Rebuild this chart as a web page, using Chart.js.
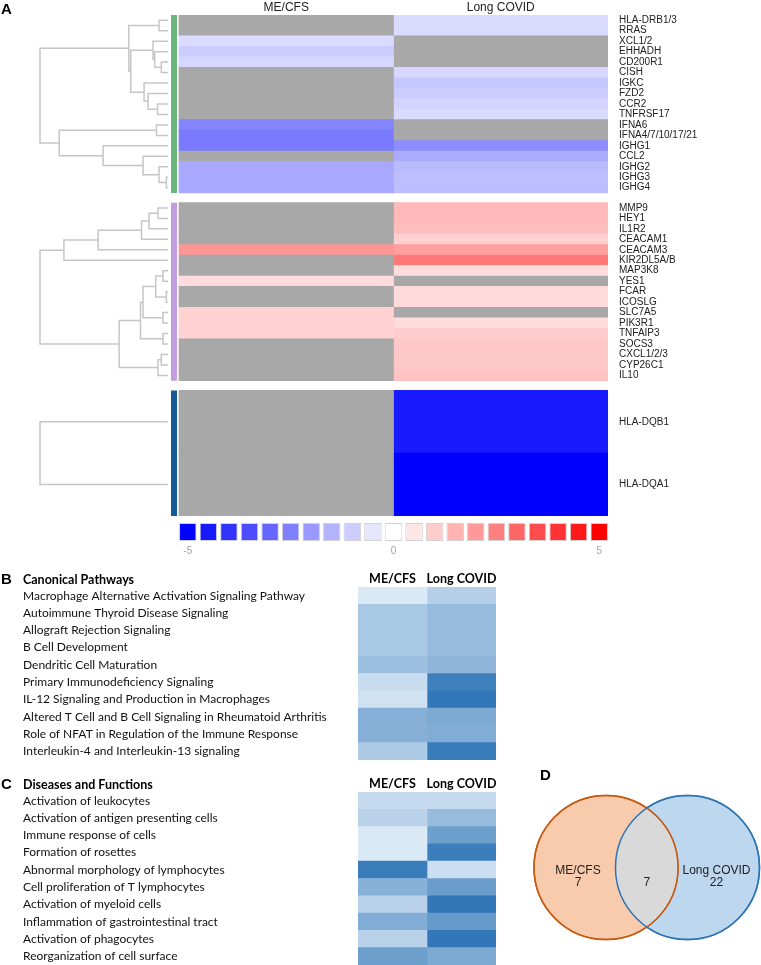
<!DOCTYPE html>
<html>
<head>
<meta charset="utf-8">
<script src="https://cdn.jsdelivr.net/npm/chart.js@4.4.1/dist/chart.umd.min.js"></script>
<style>
body { margin: 0; background: #fff; }
#page { position: relative; width: 761px; height: 965px; overflow: hidden; }
.cv { position: absolute; }
.tag { position: absolute; font: bold 15px 'Liberation Sans', Arial, sans-serif; color: #000; }
.ttl { position: absolute; font: bold 12.5px Lato, sans-serif; color: #000; }
</style>
</head>
<body>
<div id="page">
  <canvas id="heatmap" class="cv" width="761" height="520" style="left:0;top:0"></canvas>
  <canvas id="colorbar" class="cv" width="761" height="45" style="left:0;top:515px"></canvas>
  <canvas id="pathways" class="cv" width="761" height="192" style="left:0;top:570px"></canvas>
  <canvas id="diseases" class="cv" width="761" height="192" style="left:0;top:775px"></canvas>
  <canvas id="venn" class="cv" width="231" height="195" style="left:530px;top:770px"></canvas>
  <div class="tag" style="left:1px;top:0px">A</div>
  <div class="tag" style="left:1px;top:570px">B</div>
  <div class="ttl" style="left:23px;top:572px">Canonical Pathways</div>
  <div class="tag" style="left:1px;top:775px">C</div>
  <div class="ttl" style="left:23px;top:777px">Diseases and Functions</div>
  <div class="tag" style="left:540px;top:766px">D</div>
</div>
<script>
// ---- data ----
const conditions = ['ME/CFS', 'Long COVID'];

const group1Genes = ['HLA-DRB1/3', 'RRAS', 'XCL1/2', 'EHHADH', 'CD200R1', 'CISH', 'IGKC', 'FZD2', 'CCR2',
  'TNFRSF17', 'IFNA6', 'IFNA4/7/10/17/21', 'IGHG1', 'CCL2', 'IGHG2', 'IGHG3', 'IGHG4'];
const group1MECFS = [null, null, -0.7, -1.0, -0.8, null, null, null, null, null, -2.4, -2.6, -2.6, null, -1.7, -1.7, -1.7];
const group1LongCovid = [-0.7, -0.7, null, null, null, -0.8, -1.1, -1.0, -0.85, -0.7, null, null, -2.25, -1.65, -1.35, -1.3, -1.3];

const group2Genes = ['MMP9', 'HEY1', 'IL1R2', 'CEACAM1', 'CEACAM3', 'KIR2DL5A/B', 'MAP3K8', 'YES1', 'FCAR',
  'ICOSLG', 'SLC7A5', 'PIK3R1', 'TNFAIP3', 'SOCS3', 'CXCL1/2/3', 'CYP26C1', 'IL10'];
const group2MECFS = [null, null, null, null, 2.05, null, null, 0.7, null, null, 0.9, 0.9, 0.9, null, null, null, null];
const group2LongCovid = [1.37, 1.37, 1.27, 0.92, 1.86, 2.65, 0.69, null, 0.73, 0.73, null, 0.69, 0.98, 1.08, 1.08, 1.08, 1.18];

const group3Genes = ['HLA-DQB1', 'HLA-DQA1'];
const group3MECFS = [null, null];
const group3LongCovid = [-4.5, -5];

// dendrograms: [left, right, height], leaves are row indexes
const group1Tree = [
  [[0, 1, 0.07],
   [[2, [3, [4, 5, 0.052], 0.104], 0.117], [6, [7, [8, 9, 0.082], 0.156], 0.187], 0.291], 0.306],
  [[10, 11, 0.09], [12, [13, [14, [15, 16, 0.013], 0.07], 0.195], 0.507], 0.85],
  1.0];
const group2Tree = [
  [[[[[0, 1, 0.078], 2, 0.148], 3, 0.207], 4, 0.546], 5, 0.813],
  [[[[[6, 7, 0.039], [8, 9, 0.013], 0.096], [10, 11, 0.039], 0.195], [12, 13, 0.039], 0.215],
   [[14, 15, 0.052], 16, 0.078], 0.382],
  1.0];
const group3Tree = [0, 1, 1.0];

const scaleSteps = [-5, -4.5, -4, -3.5, -3, -2.5, -2, -1.5, -1, -0.5, 0, 0.5, 1, 1.5, 2, 2.5, 3, 3.5, 4, 4.5, 5];
const colorbarTickLabels = [-5, 0, 5];

const pathways = ['Macrophage Alternative Activation Signaling Pathway', 'Autoimmune Thyroid Disease Signaling',
  'Allograft Rejection Signaling', 'B Cell Development', 'Dendritic Cell Maturation',
  'Primary Immunodeficiency Signaling', 'IL-12 Signaling and Production in Macrophages',
  'Altered T Cell and B Cell Signaling in Rheumatoid Arthritis', 'Role of NFAT in Regulation of the Immune Response',
  'Interleukin-4 and Interleukin-13 signaling'];
const pathwayMECFS = [0.2, 3.0, 3.0, 3.0, 3.7, 1.3, 0.8, 5.0, 5.0, 2.7];
const pathwayLongCovid = [2.4, 4.1, 4.1, 4.1, 4.5, 9.1, 9.8, 5.5, 5.3, 9.4];

const diseases = ['Activation of leukocytes', 'Activation of antigen presenting cells', 'Immune response of cells',
  'Formation of rosettes', 'Abnormal morphology of lymphocytes', 'Cell proliferation of T lymphocytes',
  'Activation of myeloid cells', 'Inflammation of gastrointestinal tract', 'Activation of phagocytes',
  'Reorganization of cell surface'];
const diseaseMECFS = [1.4, 2.1, 0.2, 0.2, 9.3, 4.9, 2.1, 5.3, 2.1, 6.4];
const diseaseLongCovid = [1.4, 4.1, 6.4, 9.2, 1.0, 6.6, 9.8, 6.9, 9.8, 5.5];

const vennSets = ['ME/CFS', 'Long COVID'];
const vennOnly = [7, 22];
const vennShared = 7;

// ---- layout ----
Chart.defaults.font.family = "'Liberation Sans', Arial, sans-serif";
const HEAT_LEFT = 179, HEAT_RIGHT = 608, HEAT_TOP = 15;
const LEAF_PX = 168, ROOT_PX = 40, SIDEBAR_PX = 174;
const groupRowSize = [1, 1, 6];
const groupGap = 0.93;
const groupColors = ['#6cb57c', '#c29ddf', '#155a96'];
const NA_GREY = '#a8a8a8';

const colUnit = (HEAT_RIGHT - HEAT_LEFT) / 2;
const toX = px => (px - HEAT_LEFT) / colUnit;
const hx = h => toX(LEAF_PX - h * (LEAF_PX - ROOT_PX));

function heatColor(v) {
  if (v === null) return NA_GREY;
  const t = Math.min(1, Math.abs(v) / 5);
  const c = Math.round(255 * (1 - t));
  return v < 0 ? `rgb(${c},${c},255)` : `rgb(255,${c},${c})`;
}

function ipaColor(s) {
  const lo = [222, 235, 247], hi = [46, 117, 182];
  const t = s / 10;
  return 'rgb(' + lo.map((c, i) => Math.round(c + (hi[i] - c) * t)).join(',') + ')';
}

function walk(node, centers, pts) {
  if (typeof node === 'number') return { y: centers[node], h: 0 };
  const a = walk(node[0], centers, pts);
  const b = walk(node[1], centers, pts);
  const h = node[2];
  pts.push({ x: hx(a.h), y: a.y }, { x: hx(h), y: a.y }, { x: hx(h), y: b.y }, { x: hx(b.h), y: b.y }, { x: null, y: null });
  return { y: (a.y + b.y) / 2, h };
}

const groups = [
  { genes: group1Genes, me: group1MECFS, lc: group1LongCovid, tree: group1Tree },
  { genes: group2Genes, me: group2MECFS, lc: group2LongCovid, tree: group2Tree },
  { genes: group3Genes, me: group3MECFS, lc: group3LongCovid, tree: group3Tree }
];

const rows = [];
const lineSets = [];
let cursor = 0;
groups.forEach((g, gi) => {
  const start = cursor;
  const centers = [];
  g.genes.forEach((gene, i) => {
    const top = cursor, bottom = cursor + groupRowSize[gi];
    rows.push({ gene, me: g.me[i], lc: g.lc[i], top, bottom });
    centers.push((top + bottom) / 2);
    cursor = bottom;
  });
  const pts = [];
  walk(g.tree, centers, pts);
  lineSets.push({
    type: 'line', data: pts, borderColor: '#c6c6c6', borderWidth: 1.5,
    pointRadius: 0, tension: 0, fill: false, spanGaps: false
  });
  lineSets.push({
    type: 'line', data: [{ x: toX(SIDEBAR_PX), y: start }, { x: toX(SIDEBAR_PX), y: cursor }],
    borderColor: groupColors[gi], borderWidth: 6, borderCapStyle: 'butt', pointRadius: 0
  });
  cursor += groupGap;
});
const yMax = cursor - groupGap;

const noLegend = { legend: { display: false }, tooltip: { enabled: false } };

// ---- A: heatmap with dendrograms ----
new Chart(document.getElementById('heatmap'), {
  type: 'bar',
  data: {
    datasets: [
      ...lineSets,
      {
        label: conditions[0],
        data: rows.map(r => ({ x: 0.5, y: [r.top, r.bottom] })),
        backgroundColor: rows.map(r => heatColor(r.me))
      },
      {
        label: conditions[1],
        data: rows.map(r => ({ x: 1.5, y: [r.top, r.bottom] })),
        backgroundColor: rows.map(r => heatColor(r.lc))
      }
    ]
  },
  options: {
    responsive: false,
    animation: false,
    layout: { padding: { bottom: 4 } },
    datasets: { bar: { grouped: false, barPercentage: 1, categoryPercentage: 1, borderWidth: 0 } },
    plugins: noLegend,
    scales: {
      x: {
        type: 'linear', position: 'top', offset: false, min: toX(0), max: 2,
        grid: { display: false, drawTicks: false }, border: { display: false },
        afterBuildTicks: s => { s.ticks = conditions.map((c, i) => ({ value: i + 0.5 })); },
        afterFit: s => { s.height = HEAT_TOP; s.paddingLeft = 0; s.paddingRight = 0; },
        ticks: { callback: (v, i) => conditions[i], padding: 0, autoSkip: false, maxRotation: 0,
          color: '#222', font: { size: 12 } }
      },
      y: {
        type: 'linear', position: 'right', reverse: true, min: 0, max: yMax,
        grid: { display: false, drawTicks: false }, border: { display: false },
        afterBuildTicks: s => { s.ticks = rows.map(r => ({ value: (r.top + r.bottom) / 2 })); },
        afterFit: s => { s.width = 761 - HEAT_RIGHT; s.paddingTop = 0; s.paddingBottom = 0; },
        ticks: { callback: (v, i) => rows[i].gene, padding: 11, autoSkip: false,
          color: '#222', font: { size: 10 } }
      }
    }
  }
});

// colour key
new Chart(document.getElementById('colorbar'), {
  type: 'bar',
  data: {
    labels: scaleSteps,
    datasets: [{
      data: scaleSteps.map(() => [0, 1]),
      backgroundColor: scaleSteps.map(heatColor),
      borderColor: '#d2d2d2', borderWidth: 1, borderSkipped: false,
      barPercentage: 0.85, categoryPercentage: 1
    }]
  },
  options: {
    responsive: false,
    animation: false,
    layout: { padding: { left: 177.5, right: 151.5, top: 8 } },
    plugins: noLegend,
    scales: {
      x: {
        grid: { display: false, drawTicks: false }, border: { display: false },
        afterFit: s => { s.height = 19; s.paddingLeft = 0; s.paddingRight = 0; },
        ticks: {
          autoSkip: false, maxRotation: 0, padding: 4, color: '#a6a6a6', font: { size: 10 },
          callback: (v, i) => colorbarTickLabels.includes(scaleSteps[i]) ? String(scaleSteps[i]) : ''
        }
      },
      y: { display: false, min: 0, max: 1 }
    }
  }
});

// ---- B and C: IPA heatmaps ----
function ipaChart(id, terms, meScores, lcScores) {
  new Chart(document.getElementById(id), {
    type: 'bar',
    data: {
      labels: terms,
      datasets: [
        { label: conditions[0], data: terms.map(() => [0, 1]), backgroundColor: meScores.map(ipaColor) },
        { label: conditions[1], data: terms.map(() => [1, 2]), backgroundColor: lcScores.map(ipaColor) }
      ]
    },
    options: {
      indexAxis: 'y',
      responsive: false,
      animation: false,
      layout: { padding: { left: 23, right: 761 - 496, bottom: 2 } },
      datasets: { bar: { grouped: false, barPercentage: 1, categoryPercentage: 1, borderWidth: 0 } },
      plugins: noLegend,
      scales: {
        x: {
          type: 'linear', position: 'top', offset: false, min: 0, max: 2,
          grid: { display: false, drawTicks: false }, border: { display: false },
          afterBuildTicks: s => { s.ticks = conditions.map((c, i) => ({ value: i + 0.5 })); },
          afterFit: s => { s.height = 17; s.paddingLeft = 0; s.paddingRight = 0; },
          ticks: { callback: (v, i) => conditions[i], padding: 1, autoSkip: false, maxRotation: 0,
            color: '#000', font: { family: 'Lato', size: 12.5, weight: 'bold' } }
        },
        y: {
          grid: { display: false, drawTicks: false }, border: { display: false },
          afterFit: s => { s.width = 358 - 23; s.paddingTop = 0; s.paddingBottom = 0; },
          ticks: { crossAlign: 'far', padding: 0, autoSkip: false, color: '#111',
            font: { family: 'Lato', size: 12 } }
        }
      }
    }
  });
}
ipaChart('pathways', pathways, pathwayMECFS, pathwayLongCovid);
ipaChart('diseases', diseases, diseaseMECFS, diseaseLongCovid);

// ---- D: Venn ----
const vennLens = {
  id: 'vennLens',
  afterDatasetsDraw(chart) {
    const a = chart.getDatasetMeta(0).data[0];
    const b = chart.getDatasetMeta(1).data[0];
    const ctx = chart.ctx;
    ctx.save();
    ctx.beginPath();
    ctx.arc(a.x, a.y, a.options.radius, 0, Math.PI * 2);
    ctx.clip();
    ctx.beginPath();
    ctx.arc(b.x, b.y, b.options.radius, 0, Math.PI * 2);
    ctx.fillStyle = '#d9d9d9';
    ctx.fill();
    ctx.restore();
    [a, b].forEach(el => {
      ctx.beginPath();
      ctx.arc(el.x, el.y, el.options.radius, 0, Math.PI * 2);
      ctx.lineWidth = el.options.borderWidth;
      ctx.strokeStyle = el.options.borderColor;
      ctx.stroke();
    });
    ctx.fillStyle = '#222';
    ctx.font = "12px 'Liberation Sans', Arial, sans-serif";
    ctx.textAlign = 'center';
    ctx.textBaseline = 'middle';
    ctx.fillText(vennSets[0], a.x - 28, a.y + 3);
    ctx.fillText(String(vennOnly[0]), a.x - 28, a.y + 15);
    ctx.fillText(vennSets[1], b.x + 29, b.y + 3);
    ctx.fillText(String(vennOnly[1]), b.x + 29, b.y + 15);
    ctx.fillText(String(vennShared), (a.x + b.x) / 2, a.y + 15);
  }
};

new Chart(document.getElementById('venn'), {
  type: 'bubble',
  data: {
    datasets: [
      { label: vennSets[0], data: [{ x: vennSets[0], y: 0 }], backgroundColor: '#f8cbad', borderColor: '#c55a11', clip: false },
      { label: vennSets[1], data: [{ x: vennSets[1], y: 0 }], backgroundColor: '#bdd7ee', borderColor: '#2e75b6', clip: false }
    ]
  },
  options: {
    responsive: false,
    animation: false,
    layout: { padding: { left: 76, right: 72, top: 29, bottom: 66 } },
    datasets: { bubble: { radius: 72, borderWidth: 1.5, hoverRadius: 0 } },
    plugins: noLegend,
    scales: {
      x: { type: 'category', labels: vennSets, offset: false, display: false },
      y: { min: -1, max: 1, display: false }
    }
  },
  plugins: [vennLens]
});
</script>
</body>
</html>
